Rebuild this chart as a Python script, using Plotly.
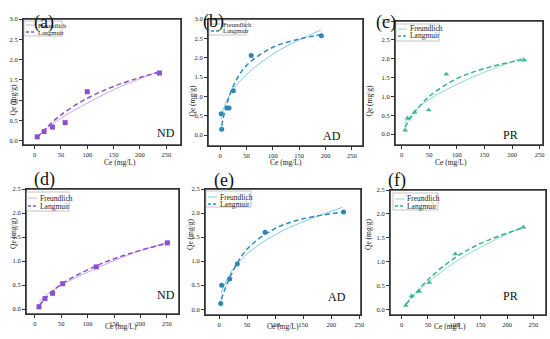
import plotly.graph_objects as go

# ---------------- data ----------------
# (a) ND
a_ce = [5, 18, 34, 58, 100, 237]
a_qe = [0.10, 0.23, 0.34, 0.45, 1.21, 1.67]
a_fx = [5, 20, 50, 100, 150, 200, 237]
a_fy = [0.10, 0.27, 0.56, 0.93, 1.26, 1.53, 1.72]
a_lx = [5, 20, 50, 100, 150, 200, 237]
a_ly = [0.08, 0.29, 0.64, 1.05, 1.34, 1.56, 1.69]

# (b) AD
b_ce = [3, 2, 13, 17, 25, 59, 192]
b_qe = [0.155, 0.55, 0.70, 0.70, 1.15, 2.06, 2.57]
b_fx = [2, 10, 25, 50, 100, 150, 192]
b_fy = [0.42, 0.82, 1.18, 1.57, 2.09, 2.46, 2.72]
b_lx = [3, 10, 25, 50, 100, 150, 192]
b_ly = [0.24, 0.67, 1.27, 1.80, 2.27, 2.48, 2.60]

# (c) PR
c_ce = [6.5, 10.5, 23.5, 49, 81, 222]
c_qe = [0.10, 0.42, 0.58, 0.64, 1.59, 1.96]
c_fx = [5, 20, 50, 100, 150, 222]
c_fy = [0.27, 0.56, 0.92, 1.32, 1.64, 2.04]
c_lx = [6, 20, 50, 100, 150, 222]
c_ly = [0.18, 0.51, 1.00, 1.47, 1.74, 1.98]

# (d) ND
d_ce = [7.6, 19, 33.5, 52.5, 116, 251]
d_qe = [0.05, 0.22, 0.33, 0.53, 0.88, 1.38]
d_fx = [8, 20, 50, 116, 180, 250]
d_fy = [0.15, 0.28, 0.50, 0.85, 1.14, 1.39]
d_lx = [8, 20, 50, 116, 180, 250]
d_ly = [0.08, 0.23, 0.52, 0.90, 1.16, 1.37]

# (e) AD
e_ce = [3, 4.7, 19, 32.5, 82, 222]
e_qe = [0.12, 0.50, 0.63, 0.94, 1.60, 2.02]
e_fx = [4, 20, 50, 100, 150, 220]
e_fy = [0.33, 0.75, 1.15, 1.55, 1.82, 2.12]
e_lx = [4, 20, 50, 100, 150, 220]
e_ly = [0.20, 0.68, 1.25, 1.68, 1.88, 2.02]

# (f) PR
f_ce = [8, 19, 33.5, 52.5, 102, 231]
f_qe = [0.08, 0.28, 0.37, 0.56, 1.16, 1.72]
f_fx = [8, 20, 50, 100, 150, 233]
f_fy = [0.12, 0.27, 0.56, 0.98, 1.30, 1.75]
f_lx = [8, 20, 50, 100, 150, 233]
f_ly = [0.10, 0.25, 0.62, 1.07, 1.38, 1.72]

panel_letters = ["(a)", "(b)", "(c)", "(d)", "(e)", "(f)"]
sample_names = ["ND", "AD", "PR", "ND", "AD", "PR"]
series_names = ["Freundlich", "Langmuir"]
x_ticks = [0, 50, 100, 150, 200, 250]
y_ticks_top = [0.0, 0.5, 1.0, 1.5, 2.0, 2.5, 3.0]
y_ticks_bot = [0.0, 0.5, 1.0, 1.5, 2.0, 2.5]

# ---------------- styles ----------------
W, H = 550, 339
FONT = "Liberation Serif"
AXC = "#333333"
purple = dict(pt="#8b4fcf", sol="#c7a8ee", dash="#8b4fcf", sym="square")
blue = dict(pt="#2c86b6", sol="#86cbe8", dash="#2a8ac0", sym="circle")
green = dict(pt="#3ab596", sol="#8fdcc6", dash="#33b08e", sym="triangle-up")

# px/py: plot frame in pixels; leg: legend box (x0, y0, width, height, row1, row2, fontsize)
panels = [
    dict(ce=a_ce, qe=a_qe, fx=a_fx, fy=a_fy, lx=a_lx, ly=a_ly, st=purple,
         px=(23, 181), py=(19, 145), xr=[-22, 278], yr=[-0.1, 3.0], yt=y_ticks_top,
         let=(32, 10), samp=(155, 133), yl=7, xl=162, leg=(24, 21, 38, 15, 25, 32, 6.5)),
    dict(ce=b_ce, qe=b_qe, fx=b_fx, fy=b_fy, lx=b_lx, ly=b_ly, st=blue,
         px=(208, 363), py=(19, 146), xr=[-23, 271], yr=[-0.28, 3.0], yt=y_ticks_top,
         let=(213, 9), samp=(332, 136), yl=192, xl=162, leg=(209, 20, 37, 15, 24, 31, 6.5)),
    dict(ce=c_ce, qe=c_qe, fx=c_fx, fy=c_fy, lx=c_lx, ly=c_ly, st=green,
         px=(395, 543), py=(21, 145), xr=[-12, 256], yr=[-0.29, 3.0], yt=y_ticks_top,
         let=(398, 10), samp=(520, 135), yl=375, xl=162, leg=(396, 24, 43, 17, 29, 36, 7.5)),
    dict(ce=d_ce, qe=d_qe, fx=d_fx, fy=d_fy, lx=d_lx, ly=d_ly, st=purple,
         px=(26, 179), py=(189, 314), xr=[-17, 273], yr=[-0.1, 2.5], yt=y_ticks_bot,
         let=(32, 179), samp=(155, 304), yl=7, xl=333, leg=(26, 192, 43, 19, 198, 206, 7.5)),
    dict(ce=e_ce, qe=e_qe, fx=e_fx, fy=e_fy, lx=e_lx, ly=e_ly, st=blue,
         px=(205, 361), py=(189, 315), xr=[-25, 253], yr=[-0.12, 2.5], yt=y_ticks_bot,
         let=(224, 180), samp=(337, 306), yl=190, xl=333, leg=(206, 191, 45, 16, 197, 204, 7.5)),
    dict(ce=f_ce, qe=f_qe, fx=f_fx, fy=f_fy, lx=f_lx, ly=f_ly, st=green,
         px=(390, 546), py=(190, 315), xr=[-22, 274], yr=[-0.12, 2.5], yt=y_ticks_bot,
         let=(408, 180), samp=(520, 305), yl=375, xl=333, leg=(393, 193, 45, 17, 199, 206, 7.5)),
]


def px2x(v):
    return v / W


def px2y(v):
    return 1 - v / H


def paper_rect(xa, xb, ya, yb, fill, layer):
    return dict(type="rect", xref="paper", yref="paper", x0=px2x(xa), x1=px2x(xb),
                y0=px2y(yb), y1=px2y(ya), fillcolor=fill, line=dict(width=0), layer=layer)


def paper_line(xa, xb, ya, yb, color, width, dash="solid"):
    return dict(type="line", xref="paper", yref="paper", x0=px2x(xa), x1=px2x(xb),
                y0=px2y(ya), y1=px2y(yb), line=dict(color=color, width=width, dash=dash))


fig = go.Figure()
annotations = []
shapes = []
layout = {}

for i, p in enumerate(panels):
    n = "" if i == 0 else str(i + 1)
    xa, ya = "x" + n, "y" + n
    st = p["st"]
    fig.add_trace(go.Scatter(x=p["fx"], y=p["fy"], mode="lines", name=series_names[0],
                             line=dict(color=st["sol"], width=1, shape="spline"),
                             xaxis=xa, yaxis=ya, showlegend=False))
    fig.add_trace(go.Scatter(x=p["lx"], y=p["ly"], mode="lines", name=series_names[1],
                             line=dict(color=st["dash"], width=1.5, dash="5px,3px", shape="spline"),
                             xaxis=xa, yaxis=ya, showlegend=False))
    fig.add_trace(go.Scatter(x=p["ce"], y=p["qe"], mode="markers", showlegend=False,
                             name=sample_names[i],
                             marker=dict(color=st["pt"], size=5, symbol=st["sym"]),
                             xaxis=xa, yaxis=ya))
    x0, x1 = p["px"]
    y0, y1 = p["py"]
    axstyle = dict(showline=True, linecolor=AXC, linewidth=1, mirror=True,
                   ticks="outside", ticklen=3, tickcolor=AXC, tickwidth=1,
                   showgrid=False, zeroline=False, automargin=False,
                   tickfont=dict(family=FONT, size=6.5, color="#222"))
    layout["xaxis" + n] = dict(axstyle, domain=[px2x(x0), px2x(x1)], anchor=ya,
                               range=p["xr"], tickvals=x_ticks)
    layout["yaxis" + n] = dict(axstyle, domain=[px2y(y1), px2y(y0)], anchor=xa,
                               range=p["yr"], tickvals=p["yt"], tickformat=".1f")

    # plot frame: filled dark rect with white interior (below traces) + edge lines
    shapes.append(paper_rect(x0 - 0.6, x1 + 0.6, y0 - 0.6, y1 + 0.6, AXC, "below"))
    shapes.append(paper_rect(x0 + 0.6, x1 - 0.6, y0 + 0.6, y1 - 0.6, "white", "below"))
    shapes.append(paper_line(x0, x1, y0, y0, AXC, 1))
    shapes.append(paper_line(x0, x1, y1, y1, AXC, 1))
    shapes.append(paper_line(x0, x0, y0, y1, AXC, 1))
    shapes.append(paper_line(x1, x1, y0, y1, AXC, 1))

    # legend (drawn as box + line samples + text)
    lx0, ly0, lw, lh, r1, r2, fs = p["leg"]
    shapes.append(paper_rect(lx0 - 0.5, lx0 + lw + 0.5, ly0 - 0.5, ly0 + lh + 0.5, "#c4c4c4", "below"))
    shapes.append(paper_rect(lx0 + 0.5, lx0 + lw - 0.5, ly0 + 0.5, ly0 + lh - 0.5, "white", "below"))
    shapes.append(paper_line(lx0 + 2, lx0 + 11, r1, r1, st["sol"], 1))
    shapes.append(paper_line(lx0 + 2, lx0 + 11, r2, r2, st["dash"], 1.5, "3px,2px"))
    for txt, ry in zip(series_names, (r1, r2)):
        annotations.append(dict(text=txt, x=px2x(lx0 + 12), y=px2y(ry), xref="paper",
                                yref="paper", xanchor="left", yanchor="middle",
                                showarrow=False,
                                font=dict(family=FONT, size=fs, color="#222")))

    annotations.append(dict(text=panel_letters[i], x=px2x(p["let"][0]), y=px2y(p["let"][1]),
                            xref="paper", yref="paper", showarrow=False,
                            font=dict(family=FONT, size=18, color="#111")))
    annotations.append(dict(text=sample_names[i], x=px2x(p["samp"][0]), y=px2y(p["samp"][1]),
                            xref="paper", yref="paper", showarrow=False,
                            font=dict(family=FONT, size=12, color="#111")))
    annotations.append(dict(text="Ce (mg/L)", x=px2x((x0 + x1) / 2), y=px2y(p["xl"]),
                            xref="paper", yref="paper", showarrow=False,
                            font=dict(family=FONT, size=7.5, color="#222")))
    annotations.append(dict(text="Qe (mg/g)", x=px2x(p["yl"]), y=px2y((y0 + y1) / 2),
                            xref="paper", yref="paper", showarrow=False, textangle=-90,
                            font=dict(family=FONT, size=7.5, color="#222")))

fig.update_layout(**layout)
fig.update_layout(template="none", width=W, height=H,
                  margin=dict(l=0, r=0, t=0, b=0, pad=0, autoexpand=False),
                  paper_bgcolor="white", plot_bgcolor="rgba(0,0,0,0)", showlegend=False,
                  annotations=annotations, shapes=shapes, font=dict(family=FONT))
fig.write_html("out.html", config={"displayModeBar": False},
               post_script="document.body.style.margin='0';document.body.style.overflow='hidden';")
